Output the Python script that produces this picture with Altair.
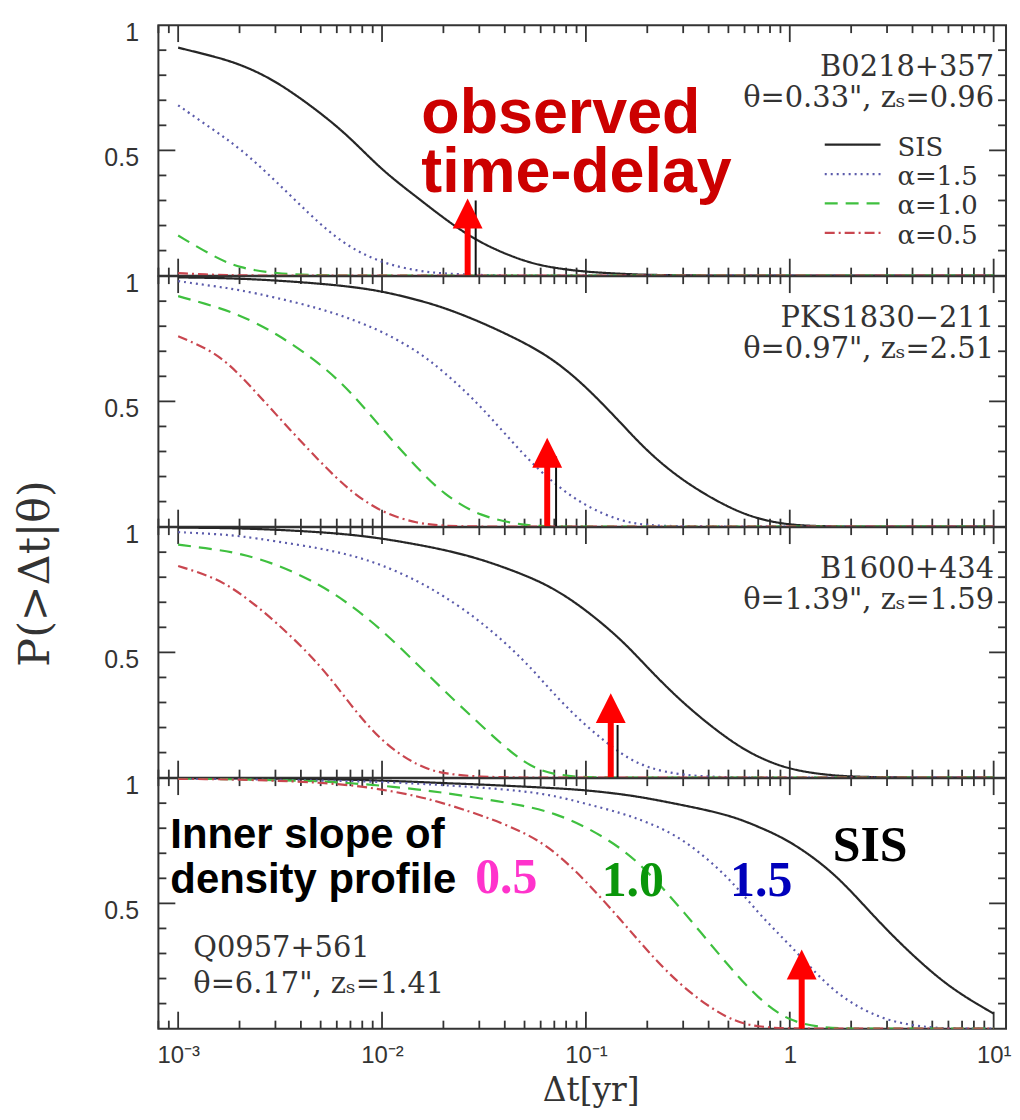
import altair as alt
import pandas as pd

# ---------------- data ----------------
T = [0.001, 0.0015, 0.002, 0.003, 0.005, 0.007, 0.01, 0.015, 0.02, 0.03, 0.05,
     0.07, 0.1, 0.15, 0.2, 0.3, 0.5, 0.7, 1, 1.5, 2, 3, 5, 7, 10]
SERIES = ["SIS", "α=1.5", "α=1.0", "α=0.5"]
COLORS = ["#262626", "#5b5bab", "#3fc03f", "#c9464f"]
DASHES = [[1, 0], [2, 4], [13, 8], [10, 4, 2, 4]]

# panel 1: B0218+357
P1_SIS = [0.91, 0.875, 0.845, 0.78, 0.65, 0.55, 0.42, 0.31, 0.23, 0.13, 0.055, 0.03, 0.015, 0.007, 0.003, 0.001, 0, 0, 0, 0, 0, 0, 0, 0, 0]
P1_A15 = [0.68, 0.58, 0.51, 0.38, 0.20, 0.11, 0.05, 0.018, 0.008, 0.002, 0, 0, 0, 0, 0, 0, 0, 0, 0, 0, 0, 0, 0, 0, 0]
P1_A10 = [0.16, 0.075, 0.03, 0.008, 0.001, 0, 0, 0, 0, 0, 0, 0, 0, 0, 0, 0, 0, 0, 0, 0, 0, 0, 0, 0, 0]
P1_A05 = [0.01, 0.003, 0.001, 0, 0, 0, 0, 0, 0, 0, 0, 0, 0, 0, 0, 0, 0, 0, 0, 0, 0, 0, 0, 0, 0]
# panel 2: PKS1830-211
P2_SIS = [0.995, 0.993, 0.99, 0.983, 0.97, 0.958, 0.94, 0.905, 0.875, 0.82, 0.735, 0.665, 0.56, 0.41, 0.30, 0.18, 0.075, 0.03, 0.006, 0.001, 0, 0, 0, 0, 0]
P2_A15 = [0.98, 0.96, 0.945, 0.915, 0.87, 0.83, 0.78, 0.70, 0.62, 0.49, 0.28, 0.17, 0.08, 0.02, 0.005, 0.001, 0, 0, 0, 0, 0, 0, 0, 0, 0]
P2_A10 = [0.92, 0.88, 0.845, 0.775, 0.65, 0.54, 0.39, 0.23, 0.13, 0.04, 0.004, 0, 0, 0, 0, 0, 0, 0, 0, 0, 0, 0, 0, 0, 0]
P2_A05 = [0.76, 0.70, 0.61, 0.45, 0.255, 0.14, 0.055, 0.012, 0.003, 0, 0, 0, 0, 0, 0, 0, 0, 0, 0, 0, 0, 0, 0, 0, 0]
# panel 3: B1600+434
P3_SIS = [0.998, 0.997, 0.995, 0.99, 0.98, 0.97, 0.955, 0.93, 0.91, 0.875, 0.81, 0.755, 0.67, 0.55, 0.44, 0.295, 0.15, 0.08, 0.032, 0.011, 0.004, 0.001, 0, 0, 0]
P3_A15 = [0.98, 0.973, 0.965, 0.944, 0.915, 0.889, 0.85, 0.785, 0.726, 0.63, 0.47, 0.33, 0.205, 0.09, 0.038, 0.008, 0.001, 0, 0, 0, 0, 0, 0, 0, 0]
P3_A10 = [0.93, 0.912, 0.895, 0.855, 0.77, 0.69, 0.59, 0.45, 0.35, 0.215, 0.05, 0.01, 0.001, 0, 0, 0, 0, 0, 0, 0, 0, 0, 0, 0, 0]
P3_A05 = [0.845, 0.80, 0.74, 0.625, 0.45, 0.29, 0.14, 0.045, 0.015, 0.003, 0, 0, 0, 0, 0, 0, 0, 0, 0, 0, 0, 0, 0, 0, 0]
# panel 4: Q0957+561
P4_SIS = [1.0, 1.0, 0.999, 0.998, 0.996, 0.994, 0.99, 0.985, 0.98, 0.975, 0.966, 0.96, 0.952, 0.936, 0.92, 0.892, 0.854, 0.807, 0.75, 0.648, 0.55, 0.39, 0.22, 0.133, 0.06]
P4_A15 = [0.998, 0.997, 0.996, 0.993, 0.99, 0.988, 0.985, 0.978, 0.972, 0.963, 0.948, 0.93, 0.898, 0.86, 0.825, 0.76, 0.607, 0.46, 0.335, 0.178, 0.10, 0.028, 0.002, 0, 0]
P4_A10 = [0.998, 0.997, 0.995, 0.992, 0.988, 0.98, 0.97, 0.955, 0.942, 0.92, 0.89, 0.86, 0.807, 0.72, 0.63, 0.47, 0.25, 0.12, 0.025, 0.003, 0, 0, 0, 0, 0]
P4_A05 = [0.997, 0.996, 0.994, 0.99, 0.982, 0.972, 0.955, 0.928, 0.90, 0.855, 0.785, 0.71, 0.59, 0.43, 0.31, 0.16, 0.033, 0.006, 0, 0, 0, 0, 0, 0, 0]

CURVES = [[P1_SIS, P1_A15, P1_A10, P1_A05],
          [P2_SIS, P2_A15, P2_A10, P2_A05],
          [P3_SIS, P3_A15, P3_A10, P3_A05],
          [P4_SIS, P4_A15, P4_A10, P4_A05]]

NAMES = ["B0218+357", "PKS1830−211", "B1600+434", "Q0957+561"]
THETA = ["0.33", "0.97", "1.39", "6.17"]
ZS = ["0.96", "2.51", "1.59", "1.41"]

# observed delays: original black marker lines and overlaid red arrows
MARK_T = [0.0288, 0.0714, 0.143, 1.14]
MARK_TOP = [0.30, 0.28, 0.21, 0.20]
ARROW_T = [0.0263, 0.0646, 0.1324, 1.144]
ARROW_TIP = [0.31, 0.355, 0.337, 0.312]
ARROW_BASE = [0.186, 0.235, 0.218, 0.20]

MAJOR_X = [0.001, 0.01, 0.1, 1, 10]
MINOR_X = [0.0008, 0.0009] + [m * 10.0 ** e for e in (-3, -2, -1, 0) for m in range(2, 10)]
MINOR_Y = [0.1, 0.2, 0.3, 0.4, 0.6, 0.7, 0.8, 0.9]
MAJOR_Y = [0.5]

LEGEND_LABELS = SERIES

# ---------------- layout constants ----------------
W, H = 851, 251.5
XDOM = [0.0008, 11.5]
INK = "#333333"
SERIF = "DejaVu Serif"
SANS = "Liberation Sans"

XLABEL_EXPR = ("datum.value < 0.0015 ? '10⁻³' : datum.value < 0.015 ? '10⁻²' : "
               "datum.value < 0.15 ? '10⁻¹' : datum.value < 1.5 ? '1' : '10¹'")


def xenc(field, axis):
    return alt.X(field, type="quantitative", scale=alt.Scale(type="log", domain=XDOM, nice=False), axis=axis)


def yenc(field, axis):
    return alt.Y(field, type="quantitative", scale=alt.Scale(domain=[0, 1], nice=False, zero=False), axis=axis)


def text_layer(txt, x, y, size, font=SERIF, color=INK, align="left", weight="normal"):
    return alt.Chart(pd.DataFrame({"s": [txt]})).mark_text(
        align=align, baseline="alphabetic", font=font, fontSize=size, color=color, fontWeight=weight
    ).encode(x=alt.value(x), y=alt.value(y), text="s:N")


def panel(i):
    rows = []
    for s, vals in zip(SERIES, CURVES[i]):
        for t, p in zip(T, vals):
            rows.append({"t": t, "p": p, "series": s})
    df = pd.DataFrame(rows)

    if i == 3:
        xaxis = alt.Axis(values=MAJOR_X, labelExpr=XLABEL_EXPR, tickSize=0, domain=False, grid=False,
                         labelPadding=15, labelFontSize=24, labelFont=SANS, labelColor=INK, labelFlush=False,
                         title="Δt[yr]", titleFont=SERIF, titleFontSize=33, titleFontWeight="normal",
                         titlePadding=7, titleColor=INK, titleX=434, titleAlign="center")
    else:
        xaxis = None
    yargs = dict(values=[0.5, 1], labelExpr="datum.value == 1 ? '1' : '0.5'", tickSize=0, domain=False,
                 grid=False, labelPadding=20, labelFontSize=25, labelFont=SANS, labelColor=INK,
                 labelBaseline="middle", labelOffset=7)
    if i == 2:
        yaxis = alt.Axis(title="P(>Δt|θ)", titleAngle=270, titleX=-123, titleY=46, titleAlign="center",
                         titleBaseline="middle", titleFont=SERIF, titleFontSize=43, titleFontWeight="normal",
                         titleColor=INK, **yargs)
    else:
        yaxis = alt.Axis(title=None, **yargs)

    lines = alt.Chart(df).mark_line(strokeWidth=2.2, interpolate="basis", clip=True).encode(
        x=xenc("t", xaxis), y=yenc("p", yaxis),
        color=alt.Color("series:N", scale=alt.Scale(domain=SERIES, range=COLORS), legend=None),
        strokeDash=alt.StrokeDash("series:N", scale=alt.Scale(domain=SERIES, range=DASHES), legend=None),
        order=alt.Order("t:Q"),
    )

    # frame ticks (inward) on all four sides
    L_MAJ, L_MIN = 17 / H, 8 / H
    trows = []
    for v in MAJOR_X:
        trows += [{"t": v, "lo": 0, "hi": L_MAJ}, {"t": v, "lo": 1 - L_MAJ, "hi": 1}]
    for v in MINOR_X:
        trows += [{"t": v, "lo": 0, "hi": L_MIN}, {"t": v, "lo": 1 - L_MIN, "hi": 1}]
    xticks = alt.Chart(pd.DataFrame(trows)).mark_rule(color=INK, strokeWidth=1.8).encode(
        x=xenc("t", xaxis), y=yenc("lo", yaxis), y2="hi:Q")
    ymin = pd.DataFrame({"v": MINOR_Y})
    ymaj = pd.DataFrame({"v": MAJOR_Y})
    yt = []
    for d, ln in ((ymin, 8), (ymaj, 17)):
        yt.append(alt.Chart(d).mark_rule(color=INK, strokeWidth=1.8).encode(
            y=yenc("v", yaxis), x=alt.value(0), x2=alt.value(ln)))
        yt.append(alt.Chart(d).mark_rule(color=INK, strokeWidth=1.8).encode(
            y=yenc("v", yaxis), x=alt.value(W - ln), x2=alt.value(W)))

    # observed time-delay markers
    mk = pd.DataFrame({"t": [MARK_T[i]], "lo": [0], "hi": [MARK_TOP[i]]})
    marker = alt.Chart(mk).mark_rule(color="#111111", strokeWidth=2).encode(
        x=xenc("t", xaxis), y=yenc("lo", yaxis), y2="hi:Q")
    ar = pd.DataFrame({"t": [ARROW_T[i]], "lo": [0], "hi": [ARROW_BASE[i] + 0.01],
                       "mid": [(ARROW_TIP[i] + ARROW_BASE[i]) / 2]})
    shaft = alt.Chart(ar).mark_rule(color="#ff0000", strokeWidth=6).encode(
        x=xenc("t", xaxis), y=yenc("lo", yaxis), y2="hi:Q")
    head = alt.Chart(ar).mark_point(shape="M0,-1L1,1L-1,1Z", filled=True, size=900, color="#ff0000",
                                    opacity=1, strokeWidth=0).encode(
        x=xenc("t", xaxis), y=yenc("mid", yaxis))

    layers = [xticks] + yt + [lines, marker, shaft, head]

    # object name and parameters
    line2 = f'θ={THETA[i]}", zₛ={ZS[i]}'
    if i < 3:
        layers.append(text_layer(NAMES[i], 839, 51, 29, align="right"))
        layers.append(text_layer(line2, 839, 82, 29, align="right"))
    else:
        layers.append(text_layer(NAMES[i], 35, 180, 29))
        layers.append(text_layer(line2, 35, 216, 29))

    if i == 0:
        # legend
        for k, s in enumerate(LEGEND_LABELS):
            yy = 120 + 29.5 * k
            layers.append(alt.Chart(pd.DataFrame({"s": [s]})).mark_rule(
                color=COLORS[k], strokeDash=DASHES[k], strokeWidth=2.2).encode(
                x=alt.value(669), x2=alt.value(725), y=alt.value(yy)))
            layers.append(text_layer(s, 742, yy + 11, 26))
        layers.append(text_layer("observed", 264, 108, 63, font=SANS, color="#cc0000", weight="bold"))
        layers.append(text_layer("time-delay", 264, 168, 63, font=SANS, color="#cc0000", weight="bold"))
    if i == 3:
        layers.append(text_layer("Inner slope of", 12, 70, 42, font=SANS, color="#000000", weight="bold"))
        layers.append(text_layer("density profile", 12, 115, 42, font=SANS, color="#000000", weight="bold"))
        layers.append(text_layer("0.5", 318, 115, 50, font="Liberation Serif", color="#ff33cc", weight="bold"))
        layers.append(text_layer("1.0", 445, 118, 50, font="Liberation Serif", color="#0a960a", weight="bold"))
        layers.append(text_layer("1.5", 574, 118, 50, font="Liberation Serif", color="#0000bb", weight="bold"))
        layers.append(text_layer("SIS", 677, 83, 50, font="Liberation Serif", color="#000000", weight="bold"))

    return alt.layer(*layers).properties(width=W, height=H)


chart = alt.vconcat(*[panel(i) for i in range(4)], spacing=0, bounds="flush").properties(
    padding={"left": 5, "top": 9, "right": 0, "bottom": 0}
).configure_view(stroke=INK, strokeWidth=2).configure_concat(spacing=0)

chart.save("out.html", embed_options={"renderer": "svg", "actions": False})
